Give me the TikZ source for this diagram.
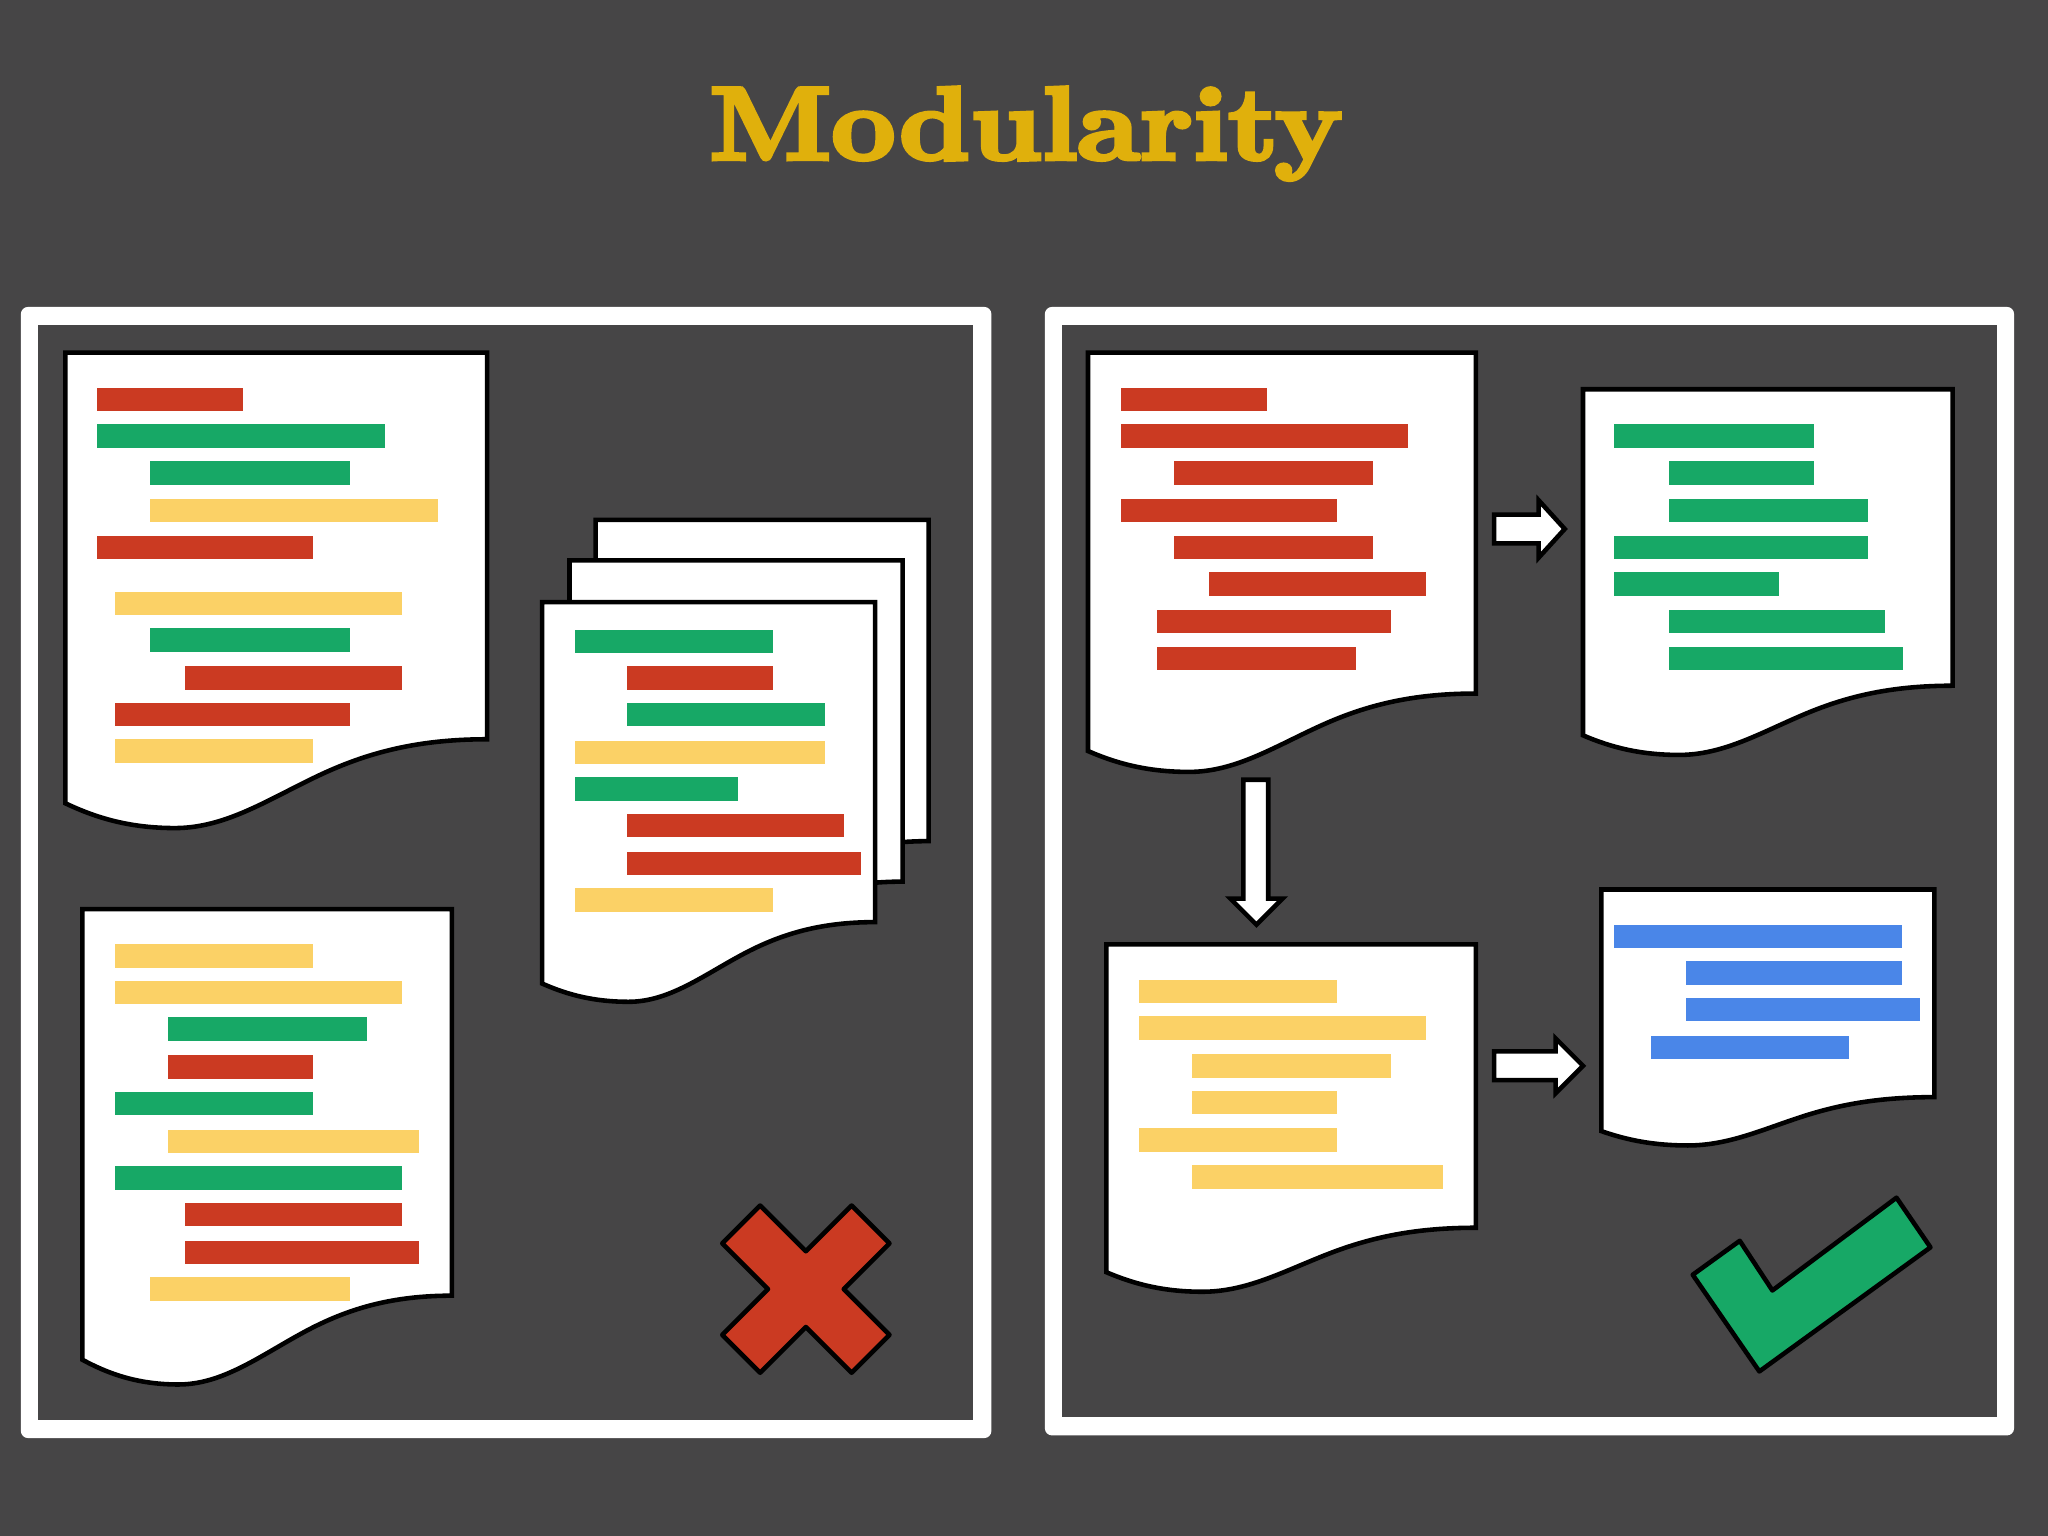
\documentclass[tikz,border=0pt]{standalone}
\usepackage{fontspec}
\usepackage{graphicx}
\newfontfamily\titlefont[Extension=.otf,UprightFont=lmroman10-bold,FakeBold=4]{lmroman10-bold}
\definecolor{bgc}{HTML}{464546}
\definecolor{goldc}{HTML}{E0B00C}
\definecolor{redc}{HTML}{CB3A22}
\definecolor{greenc}{HTML}{17A866}
\definecolor{yelc}{HTML}{FBD166}
\definecolor{bluec}{HTML}{4A86E8}
\tikzset{
  frameout/.style={fill=white,rounded corners=2pt},
  framein/.style={fill=bgc},
  paper/.style={fill=white,draw=black,line width=1.3pt,line join=miter},
  blockarrow/.style={fill=white,draw=black,line width=1.3pt,line join=miter},
  markshape/.style={draw=black,line width=1.3pt,line join=round},
}
% page outline: left, top, right, y at right corner, y at left corner, lowest y
\newcommand{\pagedoc}[6]{%
  \pgfmathsetmacro{\w}{#3-#1}\pgfmathsetmacro{\h}{#6-#4}%
  \draw[paper] (#1,#2) -- (#3,#2) -- (#3,#4)
    .. controls ({#1+.84*\w},#4) and ({#1+.72*\w},{#4+.14*\h}) .. ({#1+.60*\w},{#4+.41*\h})
    .. controls ({#1+.48*\w},{#4+.68*\h}) and ({#1+.38*\w},#6) .. ({#1+.26*\w},#6)
    .. controls ({#1+.16*\w},#6) and ({#1+.08*\w},{#6-.35*(#6-#5)}) .. (#1,#5)
    -- cycle;}
\newcommand{\codebar}[4]{\fill[#1] (#3,#2) rectangle (#4,{#2+18});}
\begin{document}
\begin{tikzpicture}[x=0.0130612cm,y=-0.0130612cm]
\useasboundingbox (0,0) rectangle (1568,1176);
\fill[bgc] (0,0) rectangle (1568,1176);
\node[anchor=base,inner sep=0,text=goldc] (title) at (785.5,122)
  {\scalebox{1}[0.93]{\resizebox{6.33cm}{!}{\fontsize{29}{30}\selectfont\titlefont Modularity}}};
% frames
\fill[frameout] (16,235) rectangle (759,1101);
\fill[framein] (29,249) rectangle (745,1087);
\fill[frameout] (800,235) rectangle (1542,1099);
\fill[framein] (813,249) rectangle (1529,1085);
% left: doc A
\pagedoc{50}{270}{373}{566}{615}{634}
\codebar{redc}{297}{74}{186}
\codebar{greenc}{325}{74}{295}
\codebar{greenc}{353}{115}{268}
\codebar{yelc}{382}{115}{335}
\codebar{redc}{410}{74}{240}
\codebar{yelc}{453}{88}{308}
\codebar{greenc}{481}{115}{268}
\codebar{redc}{510}{142}{308}
\codebar{redc}{538}{88}{268}
\codebar{yelc}{566}{88}{240}
% left: doc B
\pagedoc{63}{696}{346}{992}{1041}{1060}
\codebar{yelc}{723}{88}{240}
\codebar{yelc}{751}{88}{308}
\codebar{greenc}{779}{129}{281}
\codebar{redc}{808}{129}{240}
\codebar{greenc}{836}{88}{240}
\codebar{yelc}{865}{129}{321}
\codebar{greenc}{893}{88}{308}
\codebar{redc}{921}{142}{308}
\codebar{redc}{950}{142}{321}
\codebar{yelc}{978}{115}{268}
% left: stack
\pagedoc{456}{398}{711}{644}{691}{705}
\pagedoc{436}{429}{691}{675}{722}{736}
\pagedoc{415}{461}{670}{706}{753}{767}
\codebar{greenc}{482}{440}{592}
\codebar{redc}{510}{480}{592}
\codebar{greenc}{538}{480}{632}
\codebar{yelc}{567}{440}{632}
\codebar{greenc}{595}{440}{565}
\codebar{redc}{623}{480}{646}
\codebar{redc}{652}{480}{659}
\codebar{yelc}{680}{440}{592}
% right: doc C
\pagedoc{833}{270}{1130}{531}{575}{591}
\codebar{redc}{297}{858}{970}
\codebar{redc}{325}{858}{1078}
\codebar{redc}{353}{899}{1051}
\codebar{redc}{382}{858}{1024}
\codebar{redc}{410}{899}{1051}
\codebar{redc}{438}{926}{1092}
\codebar{redc}{467}{886}{1065}
\codebar{redc}{495}{886}{1038}
% right: doc D
\pagedoc{1212}{298}{1495}{525}{563}{578}
\codebar{greenc}{325}{1236}{1389}
\codebar{greenc}{353}{1278}{1389}
\codebar{greenc}{382}{1278}{1430}
\codebar{greenc}{410}{1236}{1430}
\codebar{greenc}{438}{1236}{1362}
\codebar{greenc}{467}{1278}{1443}
\codebar{greenc}{495}{1278}{1457}
% right: doc E
\pagedoc{847}{723}{1130}{940}{974}{989}
\codebar{yelc}{750}{872}{1024}
\codebar{yelc}{778}{872}{1092}
\codebar{yelc}{807}{913}{1065}
\codebar{yelc}{835}{913}{1024}
\codebar{yelc}{864}{872}{1024}
\codebar{yelc}{892}{913}{1105}
% right: doc F
\pagedoc{1226}{681}{1481}{840}{866}{877}
\codebar{bluec}{708}{1236}{1456}
\codebar{bluec}{736}{1291}{1456}
\codebar{bluec}{764}{1291}{1470}
\codebar{bluec}{793}{1264}{1416}
% block arrows
\draw[blockarrow] (1144,394) -- (1178,394) -- (1178,383) -- (1198,405) -- (1178,427) -- (1178,416) -- (1144,416) -- cycle;
\draw[blockarrow] (1144,805) -- (1191,805) -- (1191,795) -- (1212,816) -- (1191,837) -- (1191,827) -- (1144,827) -- cycle;
\draw[blockarrow] (952,597) -- (971,597) -- (971,688) -- (982,688) -- (962,708) -- (942,688) -- (952,688) -- cycle;
% cross
\draw[markshape,fill=redc] (582,923) -- (617,958) -- (652,923) -- (681,952) -- (646,987) -- (681,1022) -- (652,1051) -- (617,1016) -- (582,1051) -- (553,1022) -- (588,987) -- (553,952) -- cycle;
% check
\draw[markshape,fill=greenc] (1296,976) -- (1332,950) -- (1357,988) -- (1452,917) -- (1478,955) -- (1347,1050) -- cycle;
\end{tikzpicture}
\end{document}
